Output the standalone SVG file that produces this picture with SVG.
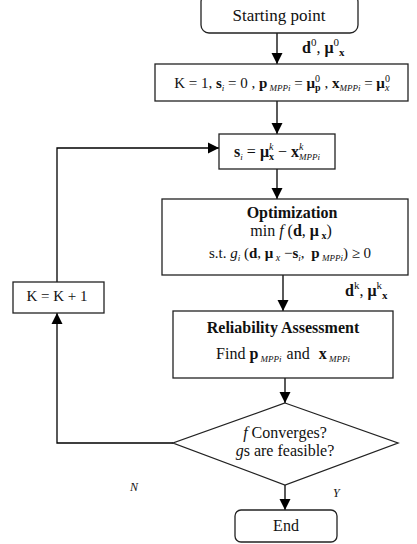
<svg xmlns="http://www.w3.org/2000/svg" width="417" height="544" viewBox="0 0 417 544" font-family="'Liberation Serif', 'Times New Roman', serif">
<defs>
<marker id="ah" markerWidth="12" markerHeight="12" refX="11" refY="6" orient="auto" markerUnits="userSpaceOnUse">
<path d="M0,0.5 L11,6 L0,11.5 Z" fill="#000"/>
</marker>
<style>
.box{fill:#fff;stroke:#222;stroke-width:1.3}
.ln{fill:none;stroke:#000;stroke-width:1.3}
text{font-family:'Liberation Serif','Times New Roman',serif;fill:#111}
.b{font-weight:bold}
.i{font-style:italic}
.s{font-size:9px}
.ss{font-size:10px}
.sl{font-size:11px}
</style>
</defs>
<rect width="417" height="544" fill="#fff"/>
<g id="connectors">
<line class="ln" x1="277" y1="33" x2="277" y2="64" marker-end="url(#ah)"/>
<line class="ln" x1="277" y1="101" x2="277" y2="134" marker-end="url(#ah)"/>
<line class="ln" x1="277" y1="169" x2="277" y2="199" marker-end="url(#ah)"/>
<line class="ln" x1="283" y1="275" x2="283" y2="311" marker-end="url(#ah)"/>
<line class="ln" x1="285" y1="378" x2="285" y2="403" marker-end="url(#ah)"/>
<line class="ln" x1="285" y1="485" x2="285" y2="510" marker-end="url(#ah)"/>
<polyline class="ln" points="173,443 57,443 57,313" marker-end="url(#ah)"/>
<polyline class="ln" points="57,282 57,148 219,148" marker-end="url(#ah)"/>
<text x="302" y="53" font-size="16"><tspan class="b">d</tspan><tspan class="sl" dy="-7">0</tspan><tspan dy="7">, </tspan><tspan class="b">μ</tspan><tspan class="sl" dy="-7">0</tspan><tspan class="sl b" dy="10">x</tspan></text>
<text x="345" y="296" font-size="16"><tspan class="b">d</tspan><tspan class="sl" dy="-7">k</tspan><tspan dy="7">, </tspan><tspan class="b">μ</tspan><tspan class="sl" dy="-7">k</tspan><tspan class="sl b" dy="10">x</tspan></text>
<text x="130" y="491" font-size="12" class="i">N</text>
<text x="333" y="497" font-size="12" class="i">Y</text>
</g>
<g id="start">
<rect class="box" x="201" y="-6" width="157" height="39" rx="8"/>
<text x="279" y="21" font-size="17" text-anchor="middle">Starting point</text>
</g>
<g id="init">
<rect class="box" x="155" y="64" width="253" height="37"/>
<text x="282" y="88" font-size="15" text-anchor="middle">K = 1, <tspan class="b">s</tspan><tspan class="s i" dy="3">i</tspan><tspan dy="-3"> = 0 , </tspan><tspan class="b">p</tspan><tspan class="s i" dy="3"> MPPi</tspan><tspan dy="-3"> = </tspan><tspan class="b">μ</tspan><tspan class="ss" dy="-6">0</tspan><tspan class="ss b" dx="-5" dy="9">p</tspan><tspan dy="-3"> , </tspan><tspan class="b">x</tspan><tspan class="s i" dy="3">MPPi</tspan><tspan dy="-3"> = </tspan><tspan class="b">μ</tspan><tspan class="ss" dy="-6">0</tspan><tspan class="ss i" dx="-5" dy="9">x</tspan></text>
</g>
<g id="shift">
<rect class="box" x="219" y="134" width="116" height="35"/>
<text x="277" y="157" font-size="16" text-anchor="middle"><tspan class="b">s</tspan><tspan class="s i" dy="3">i</tspan><tspan dy="-3"> = </tspan><tspan class="b">μ</tspan><tspan class="ss i" dy="-7">k</tspan><tspan class="ss b" dx="-4.5" dy="10">x</tspan><tspan dy="-3"> − </tspan><tspan class="b">x</tspan><tspan class="ss i" dy="-7">k</tspan><tspan class="s i" dx="-4.5" dy="10">MPPi</tspan></text>
</g>
<g id="optimization">
<rect class="box" x="162" y="199" width="246" height="76"/>
<text x="292" y="218" font-size="16" text-anchor="middle" class="b">Optimization</text>
<text x="291" y="236" font-size="16" text-anchor="middle">min <tspan class="i">f</tspan> (<tspan class="b">d</tspan>, <tspan class="b">μ</tspan><tspan class="ss b" dy="3"> x</tspan><tspan dy="-3">)</tspan></text>
<text x="290" y="258" font-size="15" text-anchor="middle">s.t. <tspan class="i">g</tspan><tspan class="s i" dy="3">i</tspan><tspan dy="-3"> (</tspan><tspan class="b">d</tspan>, <tspan class="b">μ</tspan><tspan class="ss i" dy="3"> x</tspan><tspan dy="-3"> −</tspan><tspan class="b">s</tspan><tspan class="s i" dy="3">i</tspan><tspan dy="-3">, </tspan><tspan class="b" dx="3">p</tspan><tspan class="s i" dy="3"> MPPi</tspan><tspan dy="-3">) ≥ 0</tspan></text>
</g>
<g id="reliability">
<rect class="box" x="173" y="311" width="220" height="67"/>
<text x="283" y="333" font-size="16" text-anchor="middle" class="b">Reliability Assessment</text>
<text x="283" y="359" font-size="16" text-anchor="middle">Find <tspan class="b">p</tspan><tspan class="s i" dy="3"> MPPi</tspan><tspan dy="-3" dx="5">and</tspan><tspan class="b" dx="9">x</tspan><tspan class="s i" dy="3"> MPPi</tspan></text>
</g>
<g id="increment">
<rect class="box" x="13" y="282" width="91" height="31"/>
<text x="57" y="301" font-size="15" text-anchor="middle">K = K + 1</text>
</g>
<g id="decision">
<polygon class="box" points="285,403 398,443 285,485 173,443"/>
<text x="285" y="438" font-size="16" text-anchor="middle"><tspan class="i">f</tspan> Converges?</text>
<text x="285" y="456" font-size="16" text-anchor="middle"><tspan class="i">g</tspan>s are feasible?</text>
</g>
<g id="end">
<rect class="box" x="235" y="510" width="102" height="32" rx="6"/>
<text x="286" y="531" font-size="16" text-anchor="middle">End</text>
</g>
</svg>
